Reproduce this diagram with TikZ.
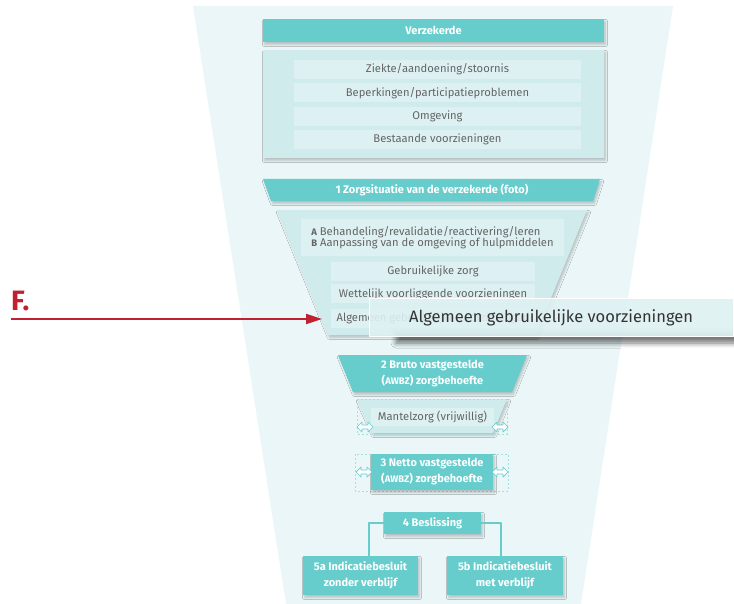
\documentclass[tikz,border=0pt]{standalone}
\usepackage{fontspec}
\setmainfont{Fira Sans}
\usetikzlibrary{arrows.meta,shadows.blur}
\definecolor{funnel}{RGB}{234,246,247}
\definecolor{zteal}{RGB}{102,204,204}
\definecolor{panel}{RGB}{207,235,236}
\definecolor{rowfill}{RGB}{222,241,242}
\definecolor{txtgray}{RGB}{100,100,100}
\definecolor{fred}{RGB}{192,32,48}
\begin{document}
\begin{tikzpicture}[x=1pt,y=-1pt,font=\fontsize{11.2}{13}\selectfont,line join=round,
	shade/.style={blur shadow={shadow xshift=1.5pt,shadow yshift=-2.5pt,shadow opacity=22,shadow blur steps=6}},
	head/.style={fill=zteal,text=white,font=\fontsize{11}{16}\selectfont\bfseries,align=center,inner sep=0pt,shade},
	row/.style={fill=rowfill,text=txtgray,inner sep=0pt,minimum height=19pt},
	dashbox/.style={draw=zteal!60,dash pattern=on 2pt off 2pt,line width=.4pt},
	dbl/.pic={\draw[zteal,fill=white,line width=.7pt] (-8,0)--(-3,-5)--(-3,-2)--(3,-2)--(3,-5)--(8,0)--(3,5)--(3,2)--(-3,2)--(-3,5)--cycle;}]
	\useasboundingbox (0,0) rectangle (734,604);
	\def\sm{\fontsize{9.5}{10}\selectfont}
	% funnel
	\fill[funnel] (193,6)--(673,6)--(581,604)--(286,604)--cycle;
	% verzekerde
	\node[head,minimum width=341pt,minimum height=23pt] (verz) at (433.5,30.5) {Verzekerde};
	\node[fill=panel,minimum width=341pt,minimum height=108pt,inner sep=0pt,shade] (pan) at (433.5,104) {};
	\foreach \t [count=\i] in {{Ziekte/aandoening/stoornis},{Beperkingen/participatieproblemen},{Omgeving},{Bestaande voorzieningen}}
		\node[row,minimum width=287pt] (z\i) at (437.5,46.3+23.3*\i) {\t};
	% 1 zorgsituatie
	\fill[zteal,shade] (263,179)--(600,179)--(593,201)--(271,201)--cycle;
	\node[text=white,font=\fontsize{11}{13}\selectfont\bfseries] (zorg) at (432,190) {1 Zorgsituatie van de verzekerde (foto)};
	\fill[panel,shade] (277,210)--(587,210)--(536,335)--(328,335)--cycle;
	\node[fill=rowfill,text=txtgray,minimum width=263pt,minimum height=37pt,inner sep=0pt,align=left] (ab) at (432.5,237.5)
		{{\sm\bfseries A} Behandeling/revalidatie/reactivering/leren\\[-1.5pt]{\sm\bfseries B} Aanpassing van de omgeving of hulpmiddelen};
	\node[row,minimum width=204pt] (g1) at (433,271.5) {Gebruikelijke zorg};
	\node[row,minimum width=204pt] (g2) at (433,294) {Wettelijk voorliggende voorzieningen};
	\node[row,minimum width=204pt] (g3) at (433,318) {Algemeen gebruikelijke voorzieningen};
	% tooltip
	\path[blur shadow={shadow xshift=4pt,shadow yshift=-7pt,shadow opacity=55,shadow blur steps=8,shadow blur radius=5pt}] (392,326) rectangle (745,336);
	\node[fill=rowfill,fill opacity=.9,text opacity=1,draw=white,line width=1pt,text=black!80,font=\fontsize{16.5}{18}\selectfont,
		minimum width=364pt,minimum height=37pt,inner sep=0pt] (tip) at (551,317.5) {Algemeen gebruikelijke voorzieningen};
	% F
	\node[anchor=base west,text=fred,font=\fontsize{28}{30}\selectfont\bfseries,inner sep=0pt] (F) at (11,311) {F.};
	\coordinate (fs) at (11,319);
	\coordinate (fe) at (322,319);
	\draw[fred,line width=2pt,-{Triangle[length=16pt,width=10pt]}] (fs)--(fe);
	% 2 bruto
	\fill[zteal,shade] (338,355)--(527,355)--(512,392)--(353,392)--cycle;
	\node[text=white,font=\fontsize{11}{16}\selectfont\bfseries,align=center] (bruto) at (432.5,373.5) {2 Bruto vastgestelde\\({\sm AWBZ}) zorgbehoefte};
	% mantelzorg
	\fill[panel,shade] (357,399)--(507,399)--(493,433)--(372,433)--cycle;
	\draw[dashbox] (357,399) rectangle (507,434);
	\node[row,minimum width=123pt,minimum height=18pt] (mz) at (432.5,417) {Mantelzorg (vrijwillig)};
	\pic at (365,427) {dbl};
	\pic at (500,427) {dbl};
	% 3 netto
	\draw[dashbox] (355,454) rectangle (508,491);
	\node[head,minimum width=122pt,minimum height=36pt] (netto) at (432,472) {3 Netto vastgestelde\\({\sm AWBZ}) zorgbehoefte};
	\pic at (364,472) {dbl};
	\pic at (500,472) {dbl};
	% 4 en 5
	\node[head,minimum width=97pt,minimum height=22pt] (besl) at (432.5,523) {4 Beslissing};
	\node[head,minimum width=115pt,minimum height=39pt] (ind5a) at (360.5,575.5) {5a Indicatiebesluit\\zonder verblijf};
	\node[head,minimum width=116pt,minimum height=39pt] (ind5b) at (505,575.5) {5b Indicatiebesluit\\met verblijf};
	\draw[zteal,line width=1.5pt] (besl.west) -| ([xshift=8.5pt]ind5a.north);
	\draw[zteal,line width=1.5pt] (besl.east) -| ([xshift=-4pt]ind5b.north);
\end{tikzpicture}
\end{document}
